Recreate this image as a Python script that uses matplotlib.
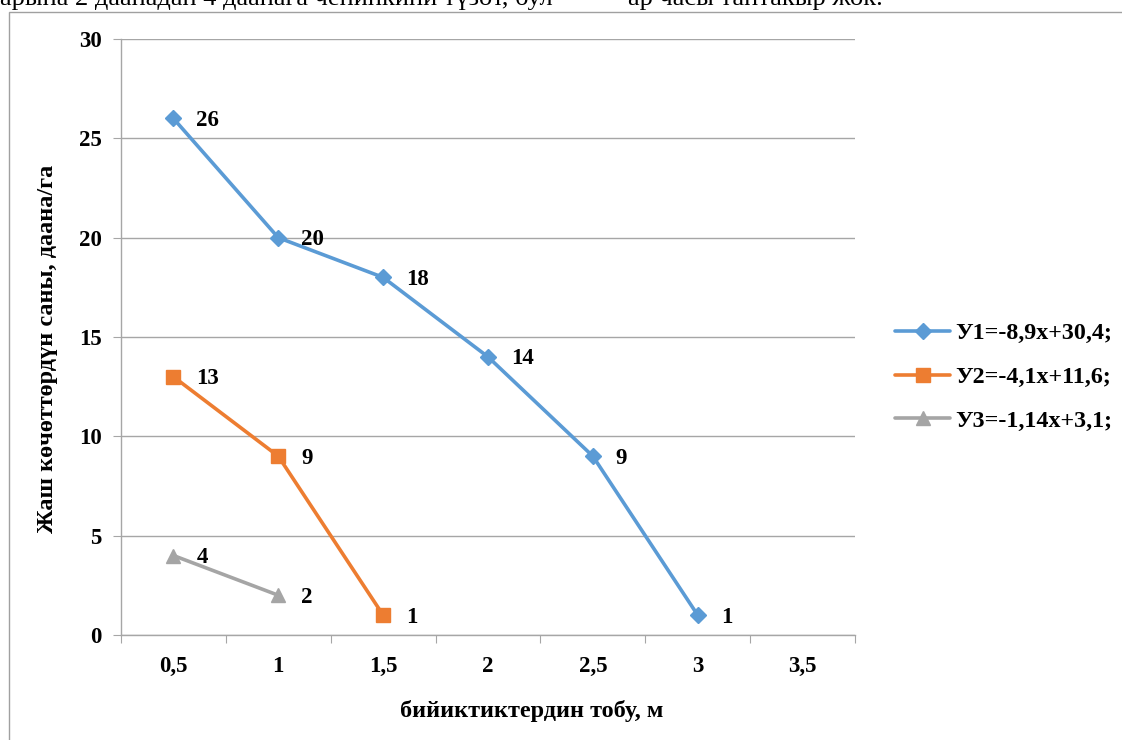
import matplotlib
matplotlib.use("Agg")
import matplotlib.pyplot as plt
from matplotlib.patches import Rectangle
from matplotlib.ticker import FixedLocator, FixedFormatter

# ---- data ----
categories = ["0,5", "1", "1,5", "2", "2,5", "3", "3,5"]
y1_values = [26, 20, 18, 14, 9, 1]
y2_values = [13, 9, 1]
y3_values = [4, 2]
series_names = ["У1=-8,9х+30,4;", "У2=-4,1х+11,6;", "У3=-1,14х+3,1;"]
y_ticks = [0, 5, 10, 15, 20, 25, 30]
x_title = "бийиктиктердин тобу, м"
y_title = "Жаш көчөттөрдүн саны, даана/га"
top_text_left = "арына 2 даанадан 4 даанага ченинкини түзөт, бул"
top_text_right = "ар часы тантакыр жок."

colors = ["#5B9BD5", "#ED7D31", "#A5A5A5"]
markers = ["D", "s", "^"]
msizes = [8.5, 10, 9.5]

plt.rcParams['font.family'] = ['Liberation Serif', 'DejaVu Serif']

W, H = 1122, 740
fig = plt.figure(figsize=(W / 100, H / 100), dpi=100)
ax = fig.add_axes([121 / W, 1 - 635 / H, (855 - 121) / W, (635 - 39) / H])

all_series = [y1_values, y2_values, y3_values]
for vals, c, m, ms, name in zip(all_series, colors, markers, msizes, series_names):
    xs = list(range(len(vals)))
    ax.plot(xs, vals, color=c, lw=2.6, marker=m, ms=ms, mec=c, mfc=c,
            label=name, zorder=3, solid_capstyle='round')
    for x, v in zip(xs, vals):
        ax.annotate(str(v), (x, v), xytext=(16.5, -1.5), textcoords='offset points',
                    ha='left', va='center', fontsize=16.5, fontweight='bold', zorder=4)

ax.set_xlim(-0.5, len(categories) - 0.5)
ax.set_ylim(0, 30)
ax.set_yticks(y_ticks)
ax.set_yticklabels([str(t) for t in y_ticks], fontsize=16.5, fontweight='bold')
ax.yaxis.grid(True, color='#a6a6a6', lw=1)
ax.set_axisbelow(True)

# category boundaries as major ticks, labels at category centers
ax.xaxis.set_major_locator(FixedLocator([i - 0.5 for i in range(len(categories) + 1)]))
ax.xaxis.set_major_formatter(FixedFormatter([""] * (len(categories) + 1)))
ax.xaxis.set_minor_locator(FixedLocator(list(range(len(categories)))))
ax.xaxis.set_minor_formatter(FixedFormatter(categories))
ax.tick_params(axis='x', which='major', length=6, color='#a6a6a6', direction='out')
ax.tick_params(axis='x', which='minor', length=0, pad=15, labelsize=16.5)
for lbl in ax.get_xticklabels(minor=True):
    lbl.set_fontweight('bold')
ax.tick_params(axis='y', length=6, color='#a6a6a6', pad=8)

for s in ['top', 'right']:
    ax.spines[s].set_visible(False)
for s in ['left', 'bottom']:
    ax.spines[s].set_color('#a6a6a6')
    ax.spines[s].set_linewidth(1)

# axis titles
fig.text(532 / W, 1 - 711 / H, x_title, fontsize=17.5, fontweight='bold',
         ha='center', va='center')
fig.text(48 / W, 1 - 349 / H, y_title, fontsize=17.5, fontweight='bold',
         ha='center', va='center', rotation=90)

leg = fig.legend(loc='center left', bbox_to_anchor=(895 / W, 1 - 377 / H),
                 frameon=False, prop={'size': 17.3, 'weight': 'bold'},
                 handlelength=2.3, labelspacing=0.92, handletextpad=0.2,
                 borderaxespad=0, borderpad=0)

# chart area border
fig.patches.append(Rectangle((9 / W, -0.05), 1.1, 1 - 12 / H + 0.05,
                             transform=fig.transFigure, fill=False,
                             edgecolor='#a0a0a0', lw=1))

# clipped document text at top
fig.text(0.0, 1 - 5.5 / H, top_text_left, fontsize=19, va='baseline', ha='left')
fig.text(628 / W, 1 - 5.5 / H, top_text_right, fontsize=19, va='baseline', ha='left')

fig.savefig("out.png", dpi=100)
